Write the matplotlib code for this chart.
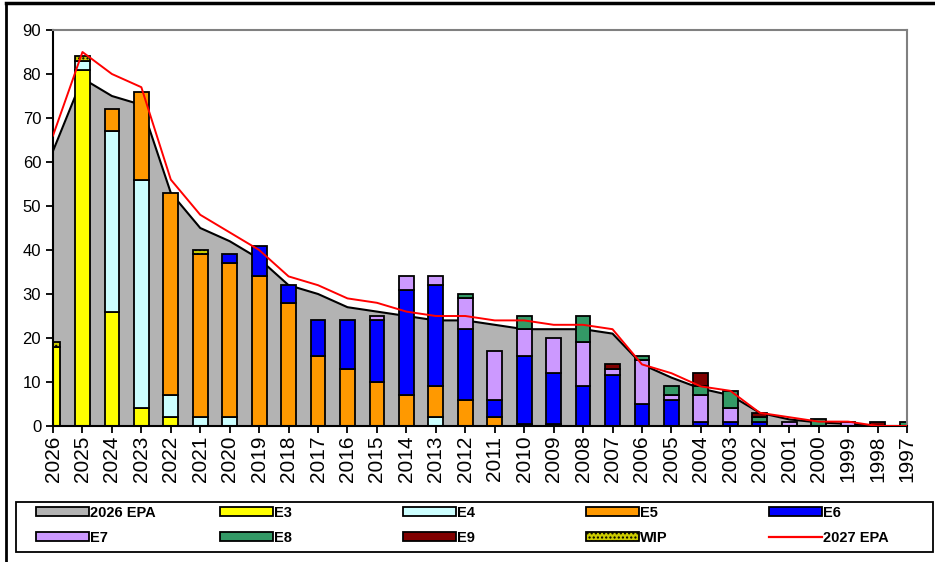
import matplotlib
matplotlib.use("Agg")
import matplotlib.pyplot as plt
from matplotlib.patches import Patch, Rectangle
from matplotlib.lines import Line2D
import numpy as np

plt.rcParams["font.family"] = ["Liberation Sans", "DejaVu Sans"]

# ------------------------------------------------------------------
# data
# ------------------------------------------------------------------
years = [str(y) for y in range(2026, 1996, -1)]

epa_2026 = [62.5, 79, 75, 73, 53, 45, 42, 38, 32, 30, 27, 26, 25, 24, 24,
            23, 22, 22, 22, 21, 14, 11, 8.5, 7, 3, 1.5, 0.8, 0.5, 0, 0]
epa_2027 = [66, 85, 80, 77, 56, 48, 44, 40, 34, 32, 29, 28, 26, 25, 25,
            24, 24, 23, 23, 22, 14, 12, 9, 8, 3, 2, 1, 1, 0, 0]

e3 = [18, 81, 26, 4, 2, 0, 0, 0, 0, 0, 0, 0, 0, 0, 0,
      0, 0, 0, 0, 0, 0, 0, 0, 0, 0, 0, 0, 0, 0, 0]
e4 = [0, 2, 41, 52, 5, 2, 2, 0, 0, 0, 0, 0, 0, 2, 0,
      0, 0, 0, 0, 0, 0, 0, 0, 0, 0, 0, 0, 0, 0, 0]
e5 = [0, 0, 5, 20, 46, 37, 35, 34, 28, 16, 13, 10, 7, 7, 6,
      2, 0.5, 0.5, 0, 0, 0, 0, 0, 0, 0, 0, 0, 0, 0, 0]
e6 = [0, 0, 0, 0, 0, 0, 2, 7, 4, 8, 11, 14, 24, 23, 16,
      4, 15.5, 11.5, 9, 11.5, 5, 6, 1, 1, 1, 0, 0, 0, 0, 0]
e7 = [0, 0, 0, 0, 0, 0, 0, 0, 0, 0, 0, 1, 3, 2, 7,
      11, 6, 8, 10, 1.5, 10, 1, 6, 3, 0, 1, 0, 1, 0, 0]
e8 = [0, 0, 0, 0, 0, 0, 0, 0, 0, 0, 0, 0, 0, 0, 1,
      0, 3, 0, 6, 0, 1, 2, 2, 4, 1, 0, 1.5, 0, 0, 1]
e9 = [0, 0, 0, 0, 0, 0, 0, 0, 0, 0, 0, 0, 0, 0, 0,
      0, 0, 0, 0, 1, 0, 0, 3, 0, 1, 0, 0, 0, 1, 0]
wip = [1, 1, 0, 0, 0, 1, 0, 0, 0, 0, 0, 0, 0, 0, 0,
       0, 0, 0, 0, 0, 0, 0, 0, 0, 0, 0, 0, 0, 0, 0]

series = [
    ("E3", e3, "#FFFF00", None),
    ("E4", e4, "#CCFFFF", None),
    ("E5", e5, "#FF9900", None),
    ("E6", e6, "#0000FF", None),
    ("E7", e7, "#CC99FF", None),
    ("E8", e8, "#339966", None),
    ("E9", e9, "#800000", None),
    ("WIP", wip, "#CCCC00", "...."),
]

# ------------------------------------------------------------------
# figure
# ------------------------------------------------------------------
W, H = 935, 562
fig = plt.figure(figsize=(W / 100, H / 100), dpi=100)
ax = fig.add_axes([53 / W, 1 - 426 / H, (907 - 53) / W, (426 - 30) / H])

x = np.arange(len(years))

# grey area (2026 EPA)
ax.fill_between(x, 0, epa_2026, color="#B3B3B3", zorder=1, linewidth=0)
ax.plot(x, epa_2026, color="black", lw=1.5, zorder=1.5)

# stacked bars, skip empty pieces so no stray edge lines appear
bottom = np.zeros(len(years))
for name, vals, col, hatch in series:
    vals = np.array(vals, dtype=float)
    m = vals > 0
    ax.bar(x[m], vals[m], bottom=bottom[m], width=0.5, color=col,
           edgecolor="black", linewidth=1.3, hatch=hatch, zorder=2)
    bottom += vals

# red line (2027 EPA)
ax.plot(x, epa_2027, color="#FF0000", lw=1.4, zorder=3)

ax.set_xlim(0, len(years) - 1)
ax.set_ylim(0, 90)
ax.set_yticks(range(0, 91, 10))
ax.set_xticks(x)
ax.set_xticklabels(years, rotation=90, fontsize=15)
ax.tick_params(axis="y", labelsize=12, direction="out", length=5, width=1.3)
ax.tick_params(axis="x", direction="out", length=5, width=1.3, pad=2)

for side in ["left", "bottom"]:
    ax.spines[side].set_color("black")
    ax.spines[side].set_linewidth(1.5)
for side in ["top", "right"]:
    ax.spines[side].set_color("#808080")
    ax.spines[side].set_linewidth(1.5)

# legend: five evenly spaced columns of two rows inside one frame
h_epa = Patch(facecolor="#B3B3B3", edgecolor="black", linewidth=1.3)
h_ser = [Patch(facecolor=c, edgecolor="black", linewidth=1.3, hatch=h)
         for _, _, c, h in series]
h_red = Line2D([], [], color="#FF0000", lw=1.6)
handles_row = [h_epa] + h_ser + [h_red]
labels_row = ["2026 EPA"] + [s[0] for s in series] + ["2027 EPA"]

fig.add_artist(Rectangle((16 / W, 1 - 552 / H), (933 - 16) / W, 50 / H,
                         transform=fig.transFigure, facecolor="none",
                         edgecolor="black", linewidth=1.3))
col_x = [36, 220, 403, 586, 769]
for i, cx in enumerate(col_x):
    fig.legend([handles_row[i], handles_row[i + 5]],
               [labels_row[i], labels_row[i + 5]],
               loc="upper left", bbox_to_anchor=(cx / W, 1 - 506 / H),
               frameon=False, prop={"weight": "bold", "size": 10.5},
               handlelength=3.6, handleheight=0.55, handletextpad=0.1,
               borderaxespad=0, borderpad=0, labelspacing=0.75)

# outer chart border (cut by the crop on the right and bottom)
fig.add_artist(Line2D([6 / W, 6 / W], [0, 1 - 3 / H], color="black", lw=2))
fig.add_artist(Line2D([6 / W, 1], [1 - 3 / H, 1 - 3 / H], color="black", lw=2.5))

fig.savefig("out.png", dpi=100)
